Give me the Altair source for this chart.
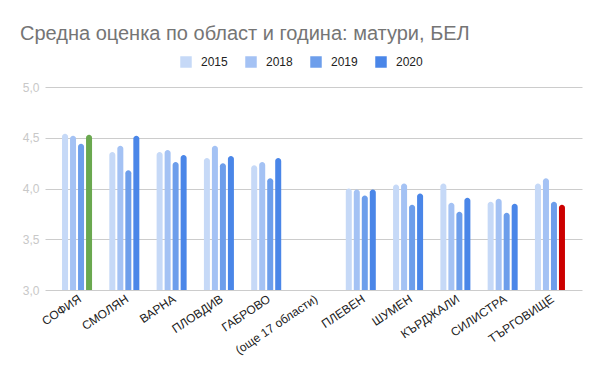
import altair as alt
import pandas as pd

categories = ["СОФИЯ", "СМОЛЯН", "ВАРНА", "ПЛОВДИВ", "ГАБРОВО", "(още 17 области)",
              "ПЛЕВЕН", "ШУМЕН", "КЪРДЖАЛИ", "СИЛИСТРА", "ТЪРГОВИЩЕ"]
data_categories = ["СОФИЯ", "СМОЛЯН", "ВАРНА", "ПЛОВДИВ", "ГАБРОВО",
                   "ПЛЕВЕН", "ШУМЕН", "КЪРДЖАЛИ", "СИЛИСТРА", "ТЪРГОВИЩЕ"]
years = ["2015", "2018", "2019", "2020"]
v2015 = [4.54, 4.36, 4.36, 4.30, 4.23, 4.00, 4.04, 4.05, 3.87, 4.05]
v2018 = [4.52, 4.42, 4.38, 4.42, 4.26, 3.99, 4.05, 3.86, 3.90, 4.10]
v2019 = [4.44, 4.18, 4.26, 4.25, 4.10, 3.93, 3.84, 3.77, 3.76, 3.87]
v2020 = [4.53, 4.52, 4.33, 4.32, 4.30, 3.99, 3.95, 3.91, 3.85, 3.84]
year_colors = ["#c6d9f7", "#a4c2f4", "#6d9eeb", "#4a86e8"]
hl_cats = ["СОФИЯ", "ТЪРГОВИЩЕ"]
hl_years = ["2020", "2020"]
hl_colors = ["#6aa84f", "#cc0000"]
title_text = "Средна оценка по област и година: матури, БЕЛ"

FONT = "Arial, Liberation Sans"

rows = []
for yr, vals in zip(years, [v2015, v2018, v2019, v2020]):
    for c, v in zip(data_categories, vals):
        hl = ""
        for hc, hy, col in zip(hl_cats, hl_years, hl_colors):
            if hc == c and hy == yr:
                hl = col
        rows.append({"region": c, "year": yr, "value": v, "hl": hl})
df = pd.DataFrame(rows)

conds = [{"test": f"datum.hl == '{col}'", "value": col} for col in hl_colors]

chart = alt.Chart(df).mark_bar(
    cornerRadiusTopLeft=3, cornerRadiusTopRight=3
).encode(
    x=alt.X("region:N", sort=categories,
            scale=alt.Scale(domain=categories, paddingInner=0.345, paddingOuter=0.35),
            axis=alt.Axis(title=None, labelAngle=-34, labelFontSize=12, labelColor="#222222",
                          labelFont=FONT, domain=False, ticks=False, labelPadding=3,
                          grid=False, labelOverlap=False)),
    xOffset=alt.XOffset("year:N", scale=alt.Scale(domain=years, paddingInner=0.25, paddingOuter=0.06)),
    y=alt.Y("value:Q", scale=alt.Scale(domain=[3, 5], nice=False, zero=False),
            axis=alt.Axis(title=None, values=[3.0, 3.5, 4.0, 4.5, 5.0],
                          labelExpr="replace(format(datum.value, '.1f'), '.', ',')",
                          labelColor="#c8c8c8", labelFontSize=12, labelFont=FONT,
                          domain=False, ticks=False, labelPadding=6,
                          gridColor="#cccccc", gridWidth=1)),
    y2=alt.datum(3.0),
    color=alt.Color("year:N", condition=conds,
                    scale=alt.Scale(domain=years, range=year_colors),
                    legend=alt.Legend(title=None, orient="none", legendX=135, legendY=-31,
                                      direction="horizontal", columns=4, symbolType="square",
                                      symbolSize=132, symbolStrokeWidth=0, labelFontSize=12,
                                      labelFont=FONT, labelColor="#222222", labelOffset=9,
                                      columnPadding=17)),
).properties(
    width=537, height=203,
    padding={"left": 37, "top": 79, "right": 10, "bottom": 70},
    autosize=alt.AutoSizeParams(type="none"),
    title=alt.TitleParams(title_text, anchor="start", frame="group", fontSize=20,
                          font=FONT, fontWeight="normal", color="#757575", dx=-25, dy=-8),
).configure_view(stroke=None)

chart.save("out.html", embed_options={"renderer": "svg", "actions": False})
